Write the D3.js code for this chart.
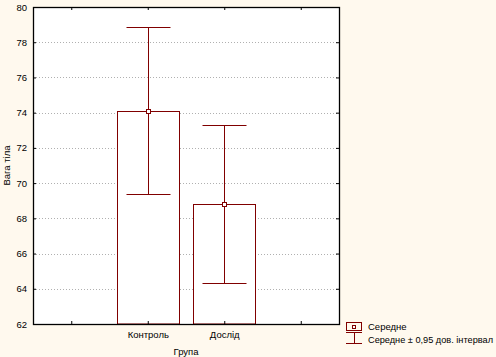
<!DOCTYPE html>
<html><head><meta charset="utf-8">
<script src="https://cdn.jsdelivr.net/npm/d3@7"></script>
<style>body{margin:0;background:#fff9ee;}svg{display:block;font-family:"Liberation Sans",Arial,sans-serif;}</style>
</head><body>
<script>
const categories = ["Контроль", "Дослід"];
const means = [74.08, 68.8];
const ciLow = [69.36, 64.31];
const ciHigh = [78.85, 73.28];
const yTicks = [62, 64, 66, 68, 70, 72, 74, 76, 78, 80];
const slots = ["", "Контроль", "Дослід", " "];
const yLabel = "Вага тіла";
const xLabel = "Група";
const legendLabels = ["Середне", "Середне ± 0,95 дов. інтервал"];

const W = 496, H = 357;
const m = {l: 33, r: 157, t: 7, b: 33};
const dark = "#800000";
const svg = d3.select("body").append("svg").attr("width", W).attr("height", H);
svg.append("rect").attr("width", W).attr("height", H).attr("fill", "#fff9ee");

const x = d3.scalePoint().domain(slots).range([m.l, W - m.r]).padding(0.5);
const y = d3.scaleLinear().domain([62, 80]).range([H - m.b, m.t]);
const x0 = m.l, x1 = W - m.r, y0 = H - m.b, y1 = m.t;

svg.append("rect").attr("x", x0).attr("y", y1).attr("width", x1 - x0).attr("height", y0 - y1).attr("fill", "#fff");

// grid
svg.append("g").selectAll("line").data(yTicks.filter(d => d > 62 && d < 80)).join("line")
  .attr("x1", x0).attr("x2", x1).attr("y1", d => Math.round(y(d)) + 0.5).attr("y2", d => Math.round(y(d)) + 0.5)
  .attr("stroke", "#b0b0b0").attr("stroke-dasharray", "1,2");

const bw = 62;
const g = svg.append("g");
categories.forEach((c, i) => {
  const cx = Math.round(x(c)) + 0.5;
  g.append("rect").attr("x", cx - bw / 2).attr("y", Math.round(y(means[i])) + 0.5)
    .attr("width", bw).attr("height", y0 - Math.round(y(means[i])) - 0.5)
    .attr("fill", "#fff").attr("stroke", dark);
  g.append("line").attr("x1", cx).attr("x2", cx).attr("y1", Math.round(y(ciLow[i])) + 0.5).attr("y2", Math.round(y(ciHigh[i])) + 0.5).attr("stroke", dark);
  [ciLow[i], ciHigh[i]].forEach(v => {
    g.append("line").attr("x1", cx - 22).attr("x2", cx + 22).attr("y1", Math.round(y(v)) + 0.5).attr("y2", Math.round(y(v)) + 0.5).attr("stroke", dark);
  });
  g.append("rect").attr("x", cx - 2).attr("y", Math.round(y(means[i])) - 1.5).attr("width", 4).attr("height", 4)
    .attr("fill", "#fff").attr("stroke", dark);
});

// frame
svg.append("rect").attr("x", x0 + 0.5).attr("y", y1 + 0.5).attr("width", x1 - x0).attr("height", y0 - y1)
  .attr("fill", "none").attr("stroke", "#000").attr("stroke-width", 1.3);

// axes
const yAx = svg.append("g").attr("transform", `translate(${x0},0)`)
  .call(d3.axisLeft(y).tickValues(yTicks).tickSize(-3).tickPadding(6).tickFormat(d3.format("d")));
const yAxR = svg.append("g").attr("transform", `translate(${x1},0)`)
  .call(d3.axisRight(y).tickValues(yTicks).tickSize(-3).tickFormat(""));
const xAx = svg.append("g").attr("transform", `translate(0,${y0})`)
  .call(d3.axisBottom(x).tickSize(-3).tickPadding(7));
const xAxT = svg.append("g").attr("transform", `translate(0,${y1})`)
  .call(d3.axisTop(x).tickSize(-3).tickFormat(""));
[yAx, yAxR, xAx, xAxT].forEach(a => {
  a.select(".domain").remove();
  a.selectAll(".tick line").attr("stroke", "#000");
  a.selectAll("text").attr("fill", "#000").attr("font-size", 9.5).attr("font-family", "Liberation Sans, Arial, sans-serif");
});

svg.append("text").attr("transform", `translate(10,${(y0 + y1) / 2}) rotate(-90)`).attr("text-anchor", "middle")
  .attr("font-size", 9.5).text(yLabel);
svg.append("text").attr("x", (x0 + x1) / 2).attr("y", 355).attr("text-anchor", "middle").attr("font-size", 9.5).text(xLabel);

// legend
const lg = svg.append("g");
lg.append("rect").attr("x", 346.5).attr("y", 322.5).attr("width", 15).attr("height", 8).attr("fill", "none").attr("stroke", dark);
lg.append("rect").attr("x", 352.5).attr("y", 325.5).attr("width", 3).attr("height", 3).attr("fill", "#fff").attr("stroke", dark);
lg.append("line").attr("x1", 346).attr("x2", 362).attr("y1", 332.5).attr("y2", 332.5).attr("stroke", dark);
lg.append("line").attr("x1", 354.5).attr("x2", 354.5).attr("y1", 332.5).attr("y2", 343.5).attr("stroke", dark);
lg.append("line").attr("x1", 346).attr("x2", 362).attr("y1", 343.5).attr("y2", 343.5).attr("stroke", dark);
lg.selectAll("text").data(legendLabels).join("text").attr("x", 368).attr("y", (d, i) => 330 + i * 13)
  .attr("font-size", 9.5).attr("fill", "#000").text(d => d)
  .each(function(d, i) { if (i === 1) d3.select(this).attr("textLength", 125).attr("lengthAdjust", "spacingAndGlyphs"); });
</script>
</body></html>
